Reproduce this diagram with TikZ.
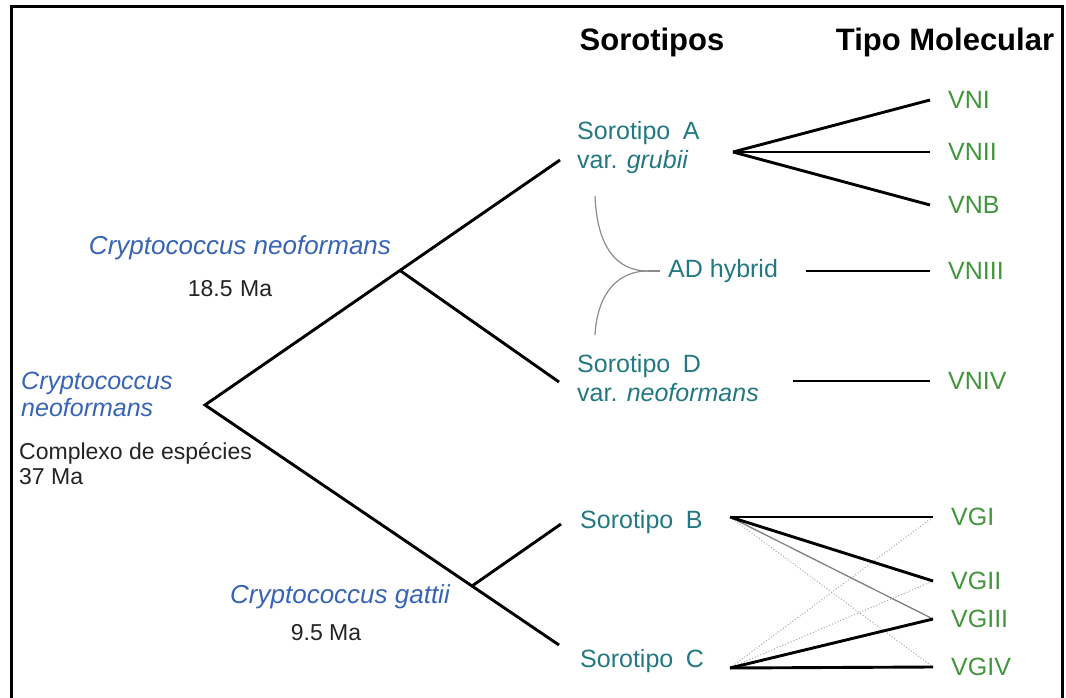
\documentclass[tikz,border=0pt]{standalone}
\usepackage{fontspec}
\setmainfont{Liberation Sans}
\usepackage{xcolor}
\usetikzlibrary{positioning}
\definecolor{spblue}{RGB}{55, 100, 180}
\definecolor{seroteal}{RGB}{35, 120, 130}
\definecolor{molgreen}{RGB}{65, 150, 60}
\definecolor{agetext}{RGB}{35, 35, 35}

\tikzset{
  branch/.style={line width=2.9pt, black},
  weak/.style={line width=1.3pt, gray},
  faint/.style={line width=1pt, gray!70, dotted},
  hybline/.style={line width=1.2pt, gray!90},
  spec/.style={spblue, inner sep=0pt, font=\fontsize{26}{27}\selectfont\itshape},
  age/.style={agetext, inner sep=0pt, align=left, font=\fontsize{23}{25}\selectfont},
  sero/.style={seroteal, inner sep=0pt, anchor=west, align=left, font=\fontsize{25}{29}\selectfont},
  mol/.style={molgreen, anchor=west, inner xsep=18pt, inner ysep=0pt, font=\fontsize{25}{27}\selectfont},
  head/.style={inner sep=0pt, font=\fontsize{31}{32}\selectfont\bfseries}
}

\begin{document}
\begin{tikzpicture}[x=1pt,y=-1pt]
        \useasboundingbox (0,0) rectangle (1066,698);
        % frame, open at the bottom
        \draw[line width=3pt] (11,698) -- (11,7) -- (1062,7) -- (1062,698);
        % column heads
        \node[head] (hsero) at (652,42) {Sorotipos};
        \node[head] (hmol) at (945,42) {Tipo Molecular};
        % tree
        \coordinate (root) at (205,405);
        \coordinate (neo) at (400,270.5);
        \coordinate (gat) at (472,586);
        \coordinate (tA) at (560,160);
        \coordinate (tD) at (559,382);
        \coordinate (tB) at (561,524);
        \coordinate (tC) at (559,645);
        \draw[branch] (tA) -- (root) -- (tC);
        \draw[branch] (neo) -- (tD);
        \draw[branch] (gat) -- (tB);
        % species labels
        \node[spec] (lneo) at (240,248) {Cryptococcus neoformans};
        \node[age] (aneo) at (230,289) {18.5\,\,Ma};
        \node[spec, anchor=west, align=left, font=\fontsize{25}{27}\selectfont\itshape] (lroot) at (21,394) {Cryptococcus\\neoformans};
        \node[age, anchor=west] (aroot) at (19,463.5) {Complexo de espécies\\37 Ma};
        \node[spec] (lgat) at (340,597) {Cryptococcus gattii};
        \node[age] (agat) at (326,633) {9.5 Ma};
        % serotypes
        \node[sero] (sA) at (577,148) {Sorotipo\enspace A\\var. \textit{grubii}};
        \node[sero] (sD) at (577,378) {Sorotipo\enspace D\\var. \textit{neoformans}};
        \node[sero] (sB) at (580,522) {Sorotipo\enspace B};
        \node[sero] (sC) at (580,661) {Sorotipo\enspace C};
        \node[sero, inner xsep=8pt] (hyb) at (660,271) {AD hybrid};
        % hybrid bracket
        \coordinate (cup) at (595,196);
        \coordinate (clow) at (595,335);
        \coordinate (cv) at (648,271);
        \draw[hybline] (cup) .. controls (597,245) and (615,271) .. (cv);
        \draw[hybline] (clow) .. controls (597,297) and (615,271) .. (cv);
        \draw[hybline] (cv) -- (hyb.west);
        % molecular types
        \node[mol] (vn1) at (930,100) {VNI};
        \node[mol] (vn2) at (930,152) {VNII};
        \node[mol] (vnb) at (930,205) {VNB};
        \node[mol] (vn3) at (930,271) {VNIII};
        \node[mol] (vn4) at (930,381) {VNIV};
        \node[mol] (vg1) at (933,517) {VGI};
        \node[mol] (vg2) at (933,581) {VGII};
        \node[mol] (vg3) at (933,619) {VGIII};
        \node[mol] (vg4) at (933,667) {VGIV};
        % links
        \coordinate (hA) at (733,152);
        \coordinate (hB) at (730,517);
        \coordinate (hC) at (730,668);
        \draw[branch] (hA) -- (vn1.west);
        \draw[branch] (hA) -- (vn2.west);
        \draw[branch] (hA) -- (vnb.west);
        \draw[branch] ([xshift=-124pt]vn3.west) -- (vn3.west);
        \draw[branch] ([xshift=-137pt]vn4.west) -- (vn4.west);
        \draw[faint] (hB) -- (vg4.west);
        \draw[faint] (hC) -- (vg1.west);
        \draw[faint] (hC) -- (vg2.west);
        \draw[weak] (hB) -- (vg3.west);
        \draw[branch] (hB) -- (vg1.west);
        \draw[branch] (hB) -- (vg2.west);
        \draw[branch] (hC) -- (vg3.west);
        \draw[branch] (hC) -- (vg4.west);
      \end{tikzpicture}
\end{document}
